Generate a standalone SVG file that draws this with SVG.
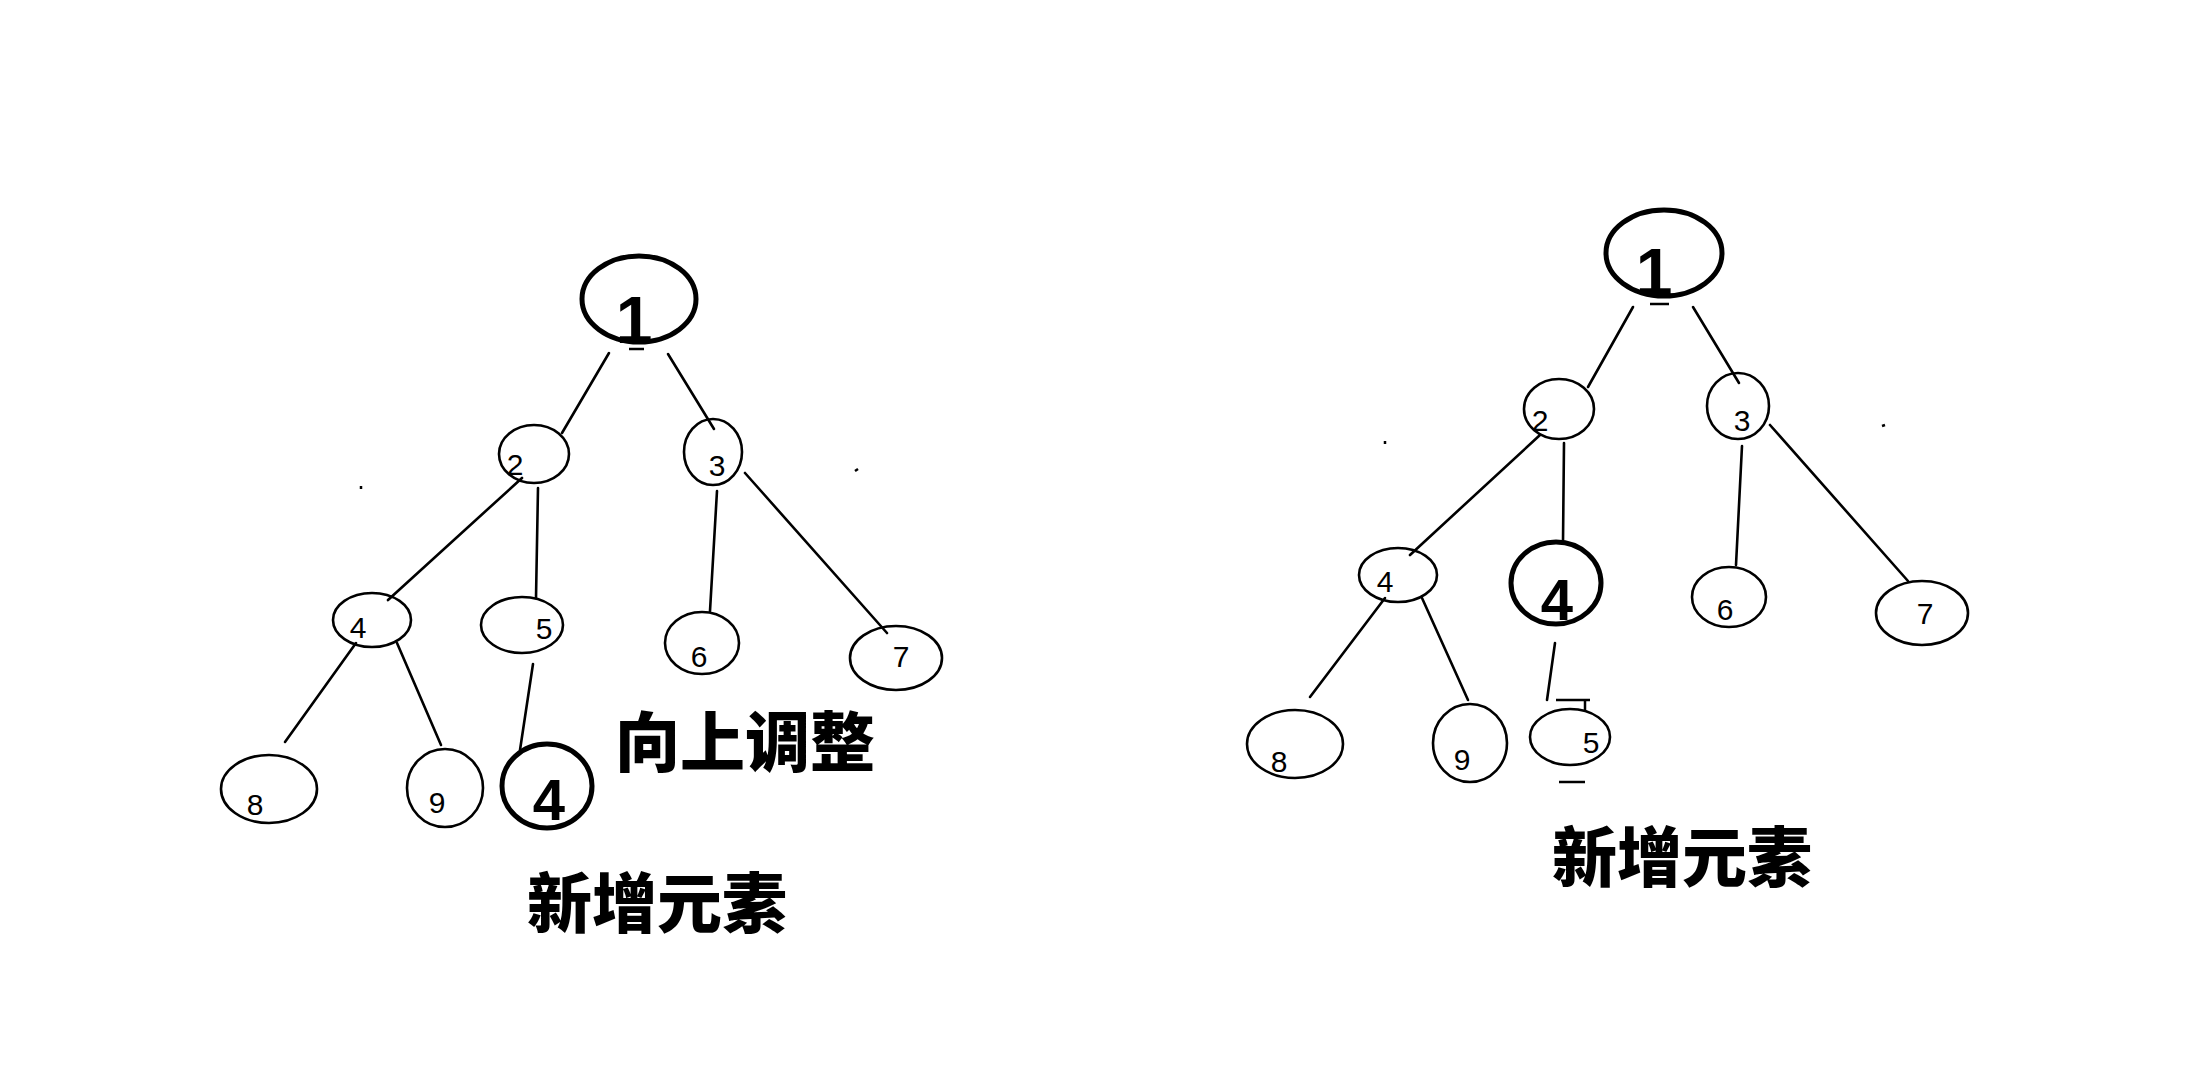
<svg xmlns="http://www.w3.org/2000/svg" width="2186" height="1072" viewBox="0 0 2186 1072">
<style>
.n{fill:none;stroke:#000;stroke-width:2.6}
.b{fill:none;stroke:#000;stroke-width:5}
.e{stroke:#000;stroke-width:2.6;fill:none;stroke-linecap:round}
.t{font-family:"Liberation Sans Narrow","Liberation Sans",Arial,sans-serif;font-stretch:condensed;font-size:30px;fill:#000;text-anchor:middle}
.tb{font-family:"Liberation Sans Narrow","Liberation Sans",Arial,sans-serif;font-stretch:condensed;font-weight:bold;fill:#000;text-anchor:middle}
.c{font-family:"Noto Sans CJK SC","Noto Sans CJK JP",sans-serif;font-weight:900;font-size:65px;fill:#000;text-anchor:middle}
</style>
<rect width="2186" height="1072" fill="#fff"/>
<g id="connectors">
<line class="e" x1="609" y1="353" x2="562" y2="433"/>
<line class="e" x1="668" y1="354" x2="714" y2="429"/>
<line class="e" x1="522" y1="478" x2="388" y2="600"/>
<line class="e" x1="538" y1="488" x2="536" y2="598"/>
<line class="e" x1="717" y1="491" x2="710" y2="611"/>
<line class="e" x1="745" y1="473" x2="887" y2="633"/>
<line class="e" x1="356" y1="643" x2="285" y2="742"/>
<line class="e" x1="397" y1="643" x2="441" y2="745"/>
<line class="e" x1="533" y1="664" x2="520" y2="750"/>
<line class="e" x1="1633" y1="307" x2="1588" y2="387"/>
<line class="e" x1="1693" y1="307" x2="1739" y2="383"/>
<line class="e" x1="1540" y1="435" x2="1410" y2="555"/>
<line class="e" x1="1564" y1="443" x2="1563" y2="542"/>
<line class="e" x1="1742" y1="446" x2="1736" y2="565"/>
<line class="e" x1="1770" y1="425" x2="1908" y2="581"/>
<line class="e" x1="1385" y1="598" x2="1310" y2="697"/>
<line class="e" x1="1422" y1="598" x2="1468" y2="700"/>
<line class="e" x1="1555" y1="643" x2="1547" y2="700"/>
</g>
<g id="marks" stroke="#000" stroke-width="2.5" fill="none">
<line x1="629" y1="349" x2="644" y2="349"/>
<line x1="1650" y1="304" x2="1669" y2="304"/>
<line x1="361" y1="486" x2="361" y2="489"/>
<line x1="855" y1="471" x2="858" y2="469"/>
<line x1="1385" y1="441" x2="1385" y2="444"/>
<line x1="1882" y1="426" x2="1885" y2="425"/>
<line x1="1556" y1="700" x2="1590" y2="700"/>
<line x1="1585" y1="701" x2="1585" y2="710"/>
<line x1="1559" y1="782" x2="1585" y2="782"/>
</g>
<g id="L1"><ellipse class="b" cx="639" cy="299" rx="57" ry="43"/><text class="tb" x="634" y="343" font-size="66">1</text></g>
<g id="L2"><ellipse class="n" cx="534" cy="454" rx="35" ry="29"/><text class="t" x="515" y="475">2</text></g>
<g id="L3"><ellipse class="n" cx="713" cy="452" rx="29" ry="33"/><text class="t" x="717" y="476">3</text></g>
<g id="L4"><ellipse class="n" cx="372" cy="620" rx="39" ry="27"/><text class="t" x="358" y="638">4</text></g>
<g id="L5"><ellipse class="n" cx="522" cy="625" rx="41" ry="28"/><text class="t" x="544" y="639">5</text></g>
<g id="L6"><ellipse class="n" cx="702" cy="643" rx="37" ry="31"/><text class="t" x="699" y="667">6</text></g>
<g id="L7"><ellipse class="n" cx="896" cy="658" rx="46" ry="32"/><text class="t" x="901" y="667">7</text></g>
<g id="L8"><ellipse class="n" cx="269" cy="789" rx="48" ry="34"/><text class="t" x="255" y="815">8</text></g>
<g id="L9"><ellipse class="n" cx="445" cy="788" rx="38" ry="39"/><text class="t" x="437" y="813">9</text></g>
<g id="Lnew4"><ellipse class="b" cx="547" cy="786" rx="45" ry="42"/><text class="tb" x="549" y="820" font-size="58">4</text></g>
<g id="Llabel1"><text class="c" x="745" y="766">向上调整</text></g>
<g id="Llabel2"><text class="c" x="657" y="927">新增元素</text></g>
<g id="R1"><ellipse class="b" cx="1664" cy="253" rx="58" ry="43"/><text class="tb" x="1654" y="295" font-size="66">1</text></g>
<g id="R2"><ellipse class="n" cx="1559" cy="409" rx="35" ry="30"/><text class="t" x="1540" y="431">2</text></g>
<g id="R3"><ellipse class="n" cx="1738" cy="406" rx="31" ry="33"/><text class="t" x="1742" y="431">3</text></g>
<g id="R4"><ellipse class="n" cx="1398" cy="575" rx="39" ry="27"/><text class="t" x="1385" y="592">4</text></g>
<g id="Rnew4"><ellipse class="b" cx="1556" cy="583" rx="45" ry="41"/><text class="tb" x="1557" y="620" font-size="58">4</text></g>
<g id="R6"><ellipse class="n" cx="1729" cy="597" rx="37" ry="30"/><text class="t" x="1725" y="620">6</text></g>
<g id="R7"><ellipse class="n" cx="1922" cy="613" rx="46" ry="32"/><text class="t" x="1925" y="624">7</text></g>
<g id="R8"><ellipse class="n" cx="1295" cy="744" rx="48" ry="34"/><text class="t" x="1279" y="772">8</text></g>
<g id="R9"><ellipse class="n" cx="1470" cy="743" rx="37" ry="39"/><text class="t" x="1462" y="770">9</text></g>
<g id="R5"><ellipse class="n" cx="1570" cy="737" rx="40" ry="28"/><text class="t" x="1591" y="753">5</text></g>
<g id="Rlabel"><text class="c" x="1682" y="881">新增元素</text></g>
</svg>
